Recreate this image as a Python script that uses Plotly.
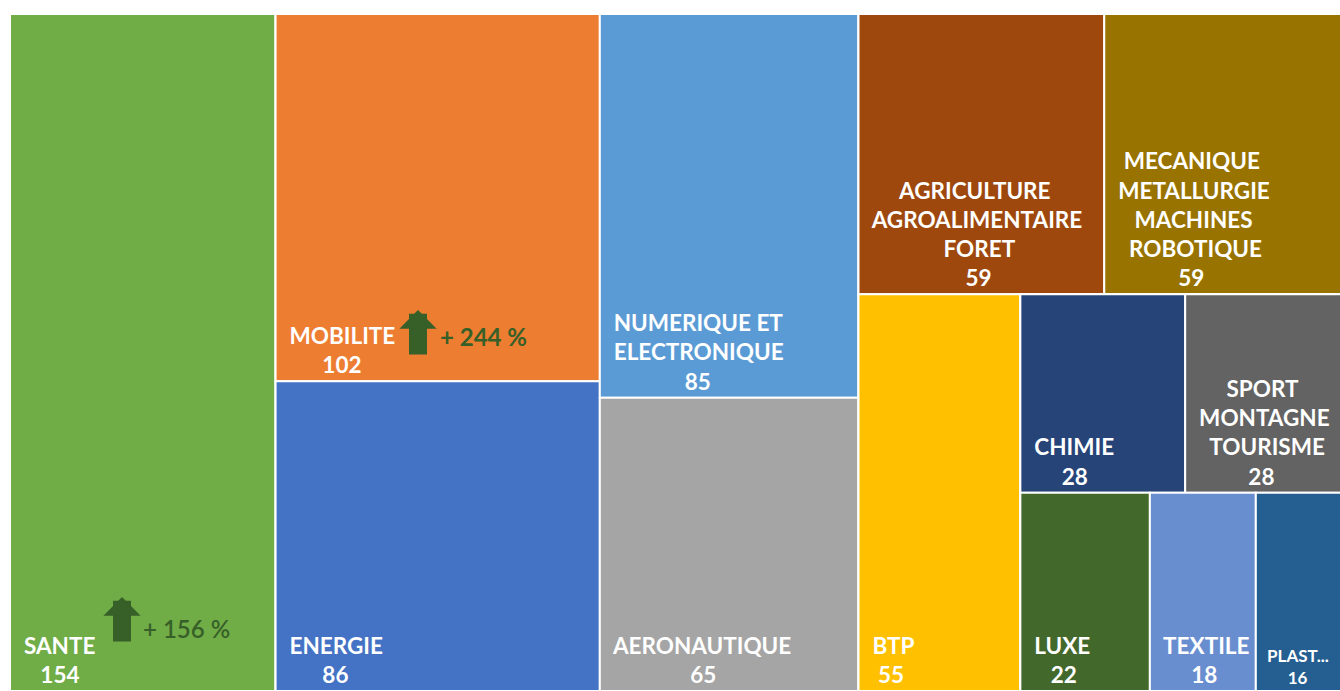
import plotly.graph_objects as go

# ---- data ----
sector_ids = ["SANTE", "MOBILITE", "ENERGIE", "NUMERIQUE", "AERONAUTIQUE",
              "AGRICULTURE", "MECANIQUE", "BTP", "CHIMIE", "SPORT",
              "LUXE", "TEXTILE", "PLAST"]
sector_labels = [["SANTE"], ["MOBILITE"], ["ENERGIE"], ["NUMERIQUE ET", "ELECTRONIQUE"],
                 ["AERONAUTIQUE"], ["AGRICULTURE", "AGROALIMENTAIRE", "FORET"],
                 ["MECANIQUE", "METALLURGIE", "MACHINES", "ROBOTIQUE"], ["BTP"],
                 ["CHIMIE"], ["SPORT", "MONTAGNE", "TOURISME"], ["LUXE"], ["TEXTILE"],
                 ["PLAST..."]]
sector_values = [154, 102, 86, 85, 65, 59, 59, 55, 28, 28, 22, 18, 16]
sector_colors = ["#70AD47", "#ED7D31", "#4472C4", "#5B9BD5", "#A5A5A5",
                 "#9E480E", "#997300", "#FFC000", "#264478", "#636363",
                 "#43682B", "#698ED0", "#255E91"]
growth_sectors = ["MOBILITE", "SANTE"]
growth_labels = ["+ 244 %", "+ 156 %"]

# grouping structure (node, parent) in display order
structure = [
    ("ALL", ""), ("SANTE", "ALL"),
    ("G2", "ALL"), ("MOBILITE", "G2"), ("ENERGIE", "G2"),
    ("G3", "ALL"), ("NUMERIQUE", "G3"), ("AERONAUTIQUE", "G3"),
    ("G4", "ALL"),
    ("G4A", "G4"), ("AGRICULTURE", "G4A"), ("MECANIQUE", "G4A"),
    ("G4B", "G4"), ("BTP", "G4B"),
    ("G4C", "G4B"),
    ("G4D", "G4C"), ("CHIMIE", "G4D"), ("SPORT", "G4D"),
    ("G4E", "G4C"), ("LUXE", "G4E"), ("TEXTILE", "G4E"), ("PLAST", "G4E"),
]

# approximate Lato advance widths (units of 1/2000 em) used to centre lines
CW = {"A": 1353, "B": 1304, "C": 1336, "D": 1512, "E": 1120, "F": 1088, "G": 1452,
      "H": 1530, "I": 580, "L": 982, "M": 1852, "N": 1530, "O": 1612, "P": 1222,
      "Q": 1612, "R": 1272, "S": 1066, "T": 1154, "U": 1474, "X": 1300, ".": 460,
      " ": 386}
SP = 491  # rendered width of a no-break space
NB = "\u00a0"


def width(s):
    return sum(CW.get(c, 1160) for c in s)


def block(lines, lead=2):
    mx = max(width(l) for l in lines)
    out = []
    for l in lines:
        n = round((mx - width(l)) / 2 / SP)
        out.append("<b>" + NB * (lead + n) + l + "</b>")
    return "<br>".join(out)


ids, parents, values, texts, colors, sizes = [], [], [], [], [], []
for node, par in structure:
    ids.append(node)
    parents.append(par)
    if node in sector_ids:
        i = sector_ids.index(node)
        values.append(sector_values[i])
        texts.append(block(sector_labels[i] + [str(sector_values[i])], lead=2))
        colors.append(sector_colors[i])
        sizes.append(17 if node == "PLAST" else 22.5)
    else:
        values.append(0)
        texts.append("")
        colors.append("#FFFFFF")
        sizes.append(22.5)

fig = go.Figure(go.Treemap(
    ids=ids, labels=ids, parents=parents, values=values,
    branchvalues="remainder", sort=False,
    text=texts, textinfo="text", textposition="bottom left",
    textfont=dict(family="Lato", color="white", size=sizes),
    marker=dict(colors=colors, line=dict(color="white", width=2),
                pad=dict(t=0, l=0, r=0, b=0), depthfade=False),
    tiling=dict(packing="slice-dice", pad=0),
    pathbar=dict(visible=False),
    root=dict(color="white"),
    hoverinfo="skip",
))

W, H, L, T = 1350, 691, 10, 14
pw, ph = W - L, H - T


def px(x):
    return (x - L) / pw


def py(y):
    return 1 - (y - T) / ph


green = "#375F28"
ann = []
# (arrow tip x, tip y, text left x, text centre y, label, weight)
for (ax_, ay_, tx_, ty_, lab, wt) in [(418, 310, 438, 336, growth_labels[0], "bold"),
                                      (122, 597, 141, 628, growth_labels[1], 600)]:
    ann.append(dict(x=px(ax_), y=py(ay_), xref="paper", yref="paper",
                    text="", showarrow=True, ax=0, ay=46, axref="pixel", ayref="pixel",
                    arrowhead=1, arrowwidth=18, arrowsize=0.345, arrowcolor=green,
                    standoff=0, startstandoff=0))
    ann.append(dict(x=px(tx_), y=py(ty_), xref="paper", yref="paper",
                    text=lab, showarrow=False, xanchor="left", yanchor="middle",
                    font=dict(family="Lato", size=24, color=green, weight=wt)))

fig.update_layout(width=W, height=H, margin=dict(l=L, r=0, t=T, b=0),
                  paper_bgcolor="white", annotations=ann)

fig.write_html("out.html", config={"displayModeBar": False},
               post_script="document.body.style.margin='0';document.body.style.overflow='hidden';")
